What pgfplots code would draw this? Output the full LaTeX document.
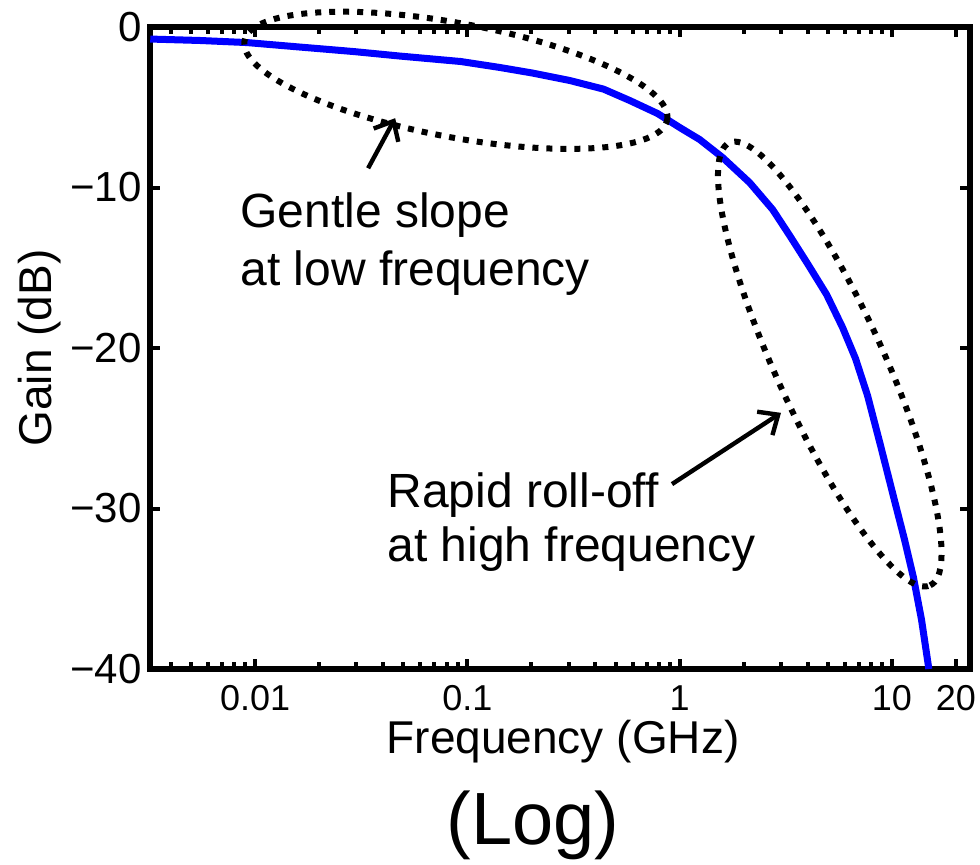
\documentclass[border=0pt]{standalone}
\usepackage{fontspec}
\setmainfont{Liberation Sans}
\usepackage{pgfplots}
\pgfplotsset{compat=1.18}
\usetikzlibrary{arrows.meta}
\definecolor{mblue}{RGB}{0,0,255}
\begin{document}
\begin{tikzpicture}
\path[use as bounding box] (-75pt,-97.5pt) rectangle (415pt,334.5pt);
\begin{axis}[
  at={(0,0)}, anchor=south west,
  scale only axis, width=410pt, height=321pt,
  xmode=log, xmin=0.0032, xmax=23.3, ymin=-40, ymax=0,
  xtick={0.01,0.1,1,10,20}, xticklabels={0.01,0.1,1,10,20},
  minor xtick={0.004,0.005,0.006,0.007,0.008,0.009,0.02,0.03,0.04,0.05,0.06,0.07,0.08,0.09,0.2,0.3,0.4,0.5,0.6,0.7,0.8,0.9,2,3,4,5,6,7,8,9},
  ytick={-40,-30,-20,-10,0}, yticklabels={−40,−30,−20,−10,0},
  axis line style={line width=3.3pt},
  every tick/.style={black, line width=2pt},
  major tick length=5pt, minor tick length=3.5pt,
  tick align=inside,
  xticklabel style={font=\fontsize{18}{20}\selectfont, anchor=base, inner sep=0pt, yshift=-20.5pt},
  yticklabel style={font=\fontsize{21}{24}\selectfont, inner sep=0pt, xshift=-4pt},
  xlabel={Frequency (GHz)}, ylabel={Gain (dB)},
  label style={font=\fontsize{23}{26}\selectfont, inner sep=0pt},
  xlabel style={at={(axis description cs:0.5037,-0.132)}, anchor=base},
  ylabel style={at={(axis description cs:-0.1195,0.5)}, anchor=base},
  clip=false,
]
\addplot[mblue, line width=3.5pt, line join=round] table {
x y
0.00321 -0.75
0.00551 -0.84
0.00917 -0.97
0.0163 -1.25
0.0292 -1.53
0.0481 -1.81
0.0931 -2.15
0.142 -2.52
0.203 -2.87
0.303 -3.33
0.438 -3.87
0.582 -4.58
0.787 -5.39
1.0 -6.26
1.242 -7.01
1.592 -8.13
2.133 -9.69
2.74 -11.37
3.296 -12.99
4.0 -14.74
4.92 -16.67
5.85 -18.72
6.73 -20.65
7.67 -22.96
8.83 -26.07
10.16 -29.25
11.45 -31.93
12.62 -34.30
13.77 -36.92
14.86 -39.85
14.9 -40
};
\draw[line width=3pt, dash pattern=on 3pt off 4pt, rotate around={-10.6:(rel axis cs:0.373,0.917)}] (rel axis cs:0.373,0.917) ellipse [x radius=107.5pt, y radius=28.5pt];
\draw[line width=3pt, dash pattern=on 3pt off 4pt, rotate around={-65.6:(rel axis cs:0.829,0.475)}] (rel axis cs:0.829,0.475) ellipse [x radius=121.5pt, y radius=27pt];
\node[anchor=base west, inner sep=0pt, font=\fontsize{24}{28}\selectfont] at (rel axis cs:0.1098,0.687) {Gentle slope};
\node[anchor=base west, inner sep=0pt, font=\fontsize{24}{28}\selectfont] at (rel axis cs:0.1098,0.598) {at low frequency};
\node[anchor=base west, inner sep=0pt, font=\fontsize{24}{28}\selectfont] at (rel axis cs:0.289,0.252) {Rapid roll-off};
\node[anchor=base west, inner sep=0pt, font=\fontsize{24}{28}\selectfont] at (rel axis cs:0.289,0.1667) {at high frequency};
\draw[line width=2.2pt, -{Straight Barb[length=8pt, width=14pt]}] (rel axis cs:0.266,0.780) -- (rel axis cs:0.299,0.858);
\draw[line width=2.2pt, -{Straight Barb[length=8pt, width=14pt]}] (rel axis cs:0.6366,0.288) -- (rel axis cs:0.7695,0.399);
\node[font=\fontsize{37}{40}\selectfont] at (rel axis cs:0.467,-0.243) {(Log)};
\end{axis}
\end{tikzpicture}
\end{document}
